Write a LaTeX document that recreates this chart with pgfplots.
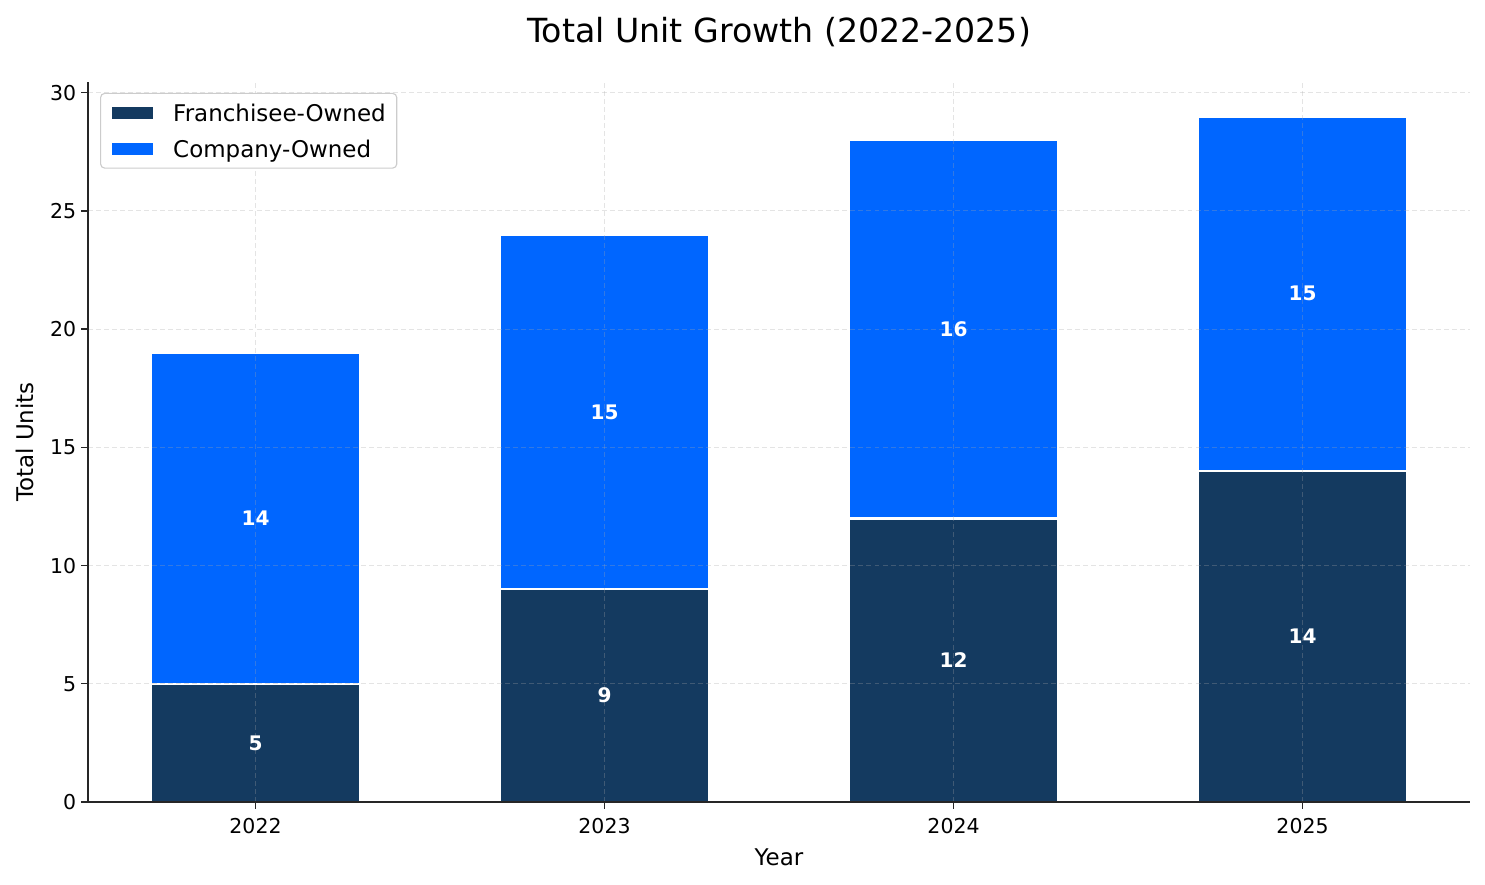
\documentclass[border=0pt]{standalone}
\usepackage{fontspec}
\setmainfont{DejaVu Sans}
\usepackage{pgfplots}
\usepackage{pgfplotstable}
\pgfplotsset{compat=1.18}

\definecolor{franchise}{RGB}{20,58,96}
\definecolor{company}{RGB}{0,102,255}

% year index, franchisee-owned, company-owned
\pgfplotstableread{
x f c
0 5 14
1 9 15
2 12 16
3 14 15
}\units

\pgfplotsset{
  common/.style={
    scale only axis,
    width=998.8pt, height=520.3pt,
    xmin=-0.48, xmax=3.48,
    ymin=0, ymax=30.45,
    /pgf/number format/assume math mode=true,
  },
}

\begin{document}
\begin{tikzpicture}
\useasboundingbox (-63.6pt,-59.3pt) rectangle (1009.6pt,579.6pt);
\begin{axis}[
  common,
  ybar stacked,
  bar width=0.6,
  axis on top,
  axis x line*=bottom,
  axis y line*=left,
  axis line style={line width=0.9pt, black!85},
  tick align=outside,
  major tick length=5pt,
  tick style={line width=0.9pt, black!85},
  xtick={0,1,2,3},
  xticklabels={2022,2023,2024,2025},
  ytick={0,5,...,30},
  ticklabel style={font=\fontsize{14.8}{17}\selectfont},
  xticklabel style={yshift=-3.6pt},
  xmajorgrids, ymajorgrids,
  grid style={dash pattern=on 3.6pt off 2.2pt, line width=0.7pt, gray!70, opacity=0.3},
  title={Total Unit Growth (2022-2025)},
  title style={at={(0.5,1)}, anchor=center, yshift=30.4pt, font=\fontsize{24}{28}\selectfont},
  xlabel={Year},
  xlabel style={at={(axis description cs:0.5,-0.0764)}, anchor=center, font=\fontsize{16.6}{19}\selectfont},
  ylabel={Total Units},
  ylabel style={at={(axis description cs:-0.0456,0.5)}, anchor=center, font=\fontsize{16.6}{19}\selectfont},
  legend style={at={(0.0087,0.985)}, anchor=north west, draw=gray!40, line width=0.8pt,
    rounded corners=3pt, font=\fontsize{16.6}{19}\selectfont,
    inner xsep=8pt, inner ysep=1pt, row sep=0pt, column sep=14.5pt,
    nodes={inner sep=0pt, text height=19pt, text depth=7pt}},
  legend cell align=left,
  legend image code/.code={\fill[#1, sharp corners, draw=none] (0pt,-4.3pt) rectangle (30pt,4.3pt);},
]
\addplot[fill=franchise, draw=white, line width=1.8pt] table[x=x, y=f] {\units};
\addplot[fill=company, draw=white, line width=1.8pt] table[x=x, y=c] {\units};
\legend{Franchisee-Owned, Company-Owned}
\end{axis}
\begin{axis}[
  common,
  hide axis,
  nodes near coords,
  nodes near coords align={center},
  every node near coord/.append style={text=white, font=\fontsize{14.5}{17}\selectfont\bfseries},
]
\addplot[draw=none, mark=none, point meta=explicit] table[x=x, y expr=\thisrow{f}/2, meta=f] {\units};
\addplot[draw=none, mark=none, point meta=explicit] table[x=x, y expr=\thisrow{f}+\thisrow{c}/2, meta=c] {\units};
\end{axis}
\end{tikzpicture}
\end{document}
